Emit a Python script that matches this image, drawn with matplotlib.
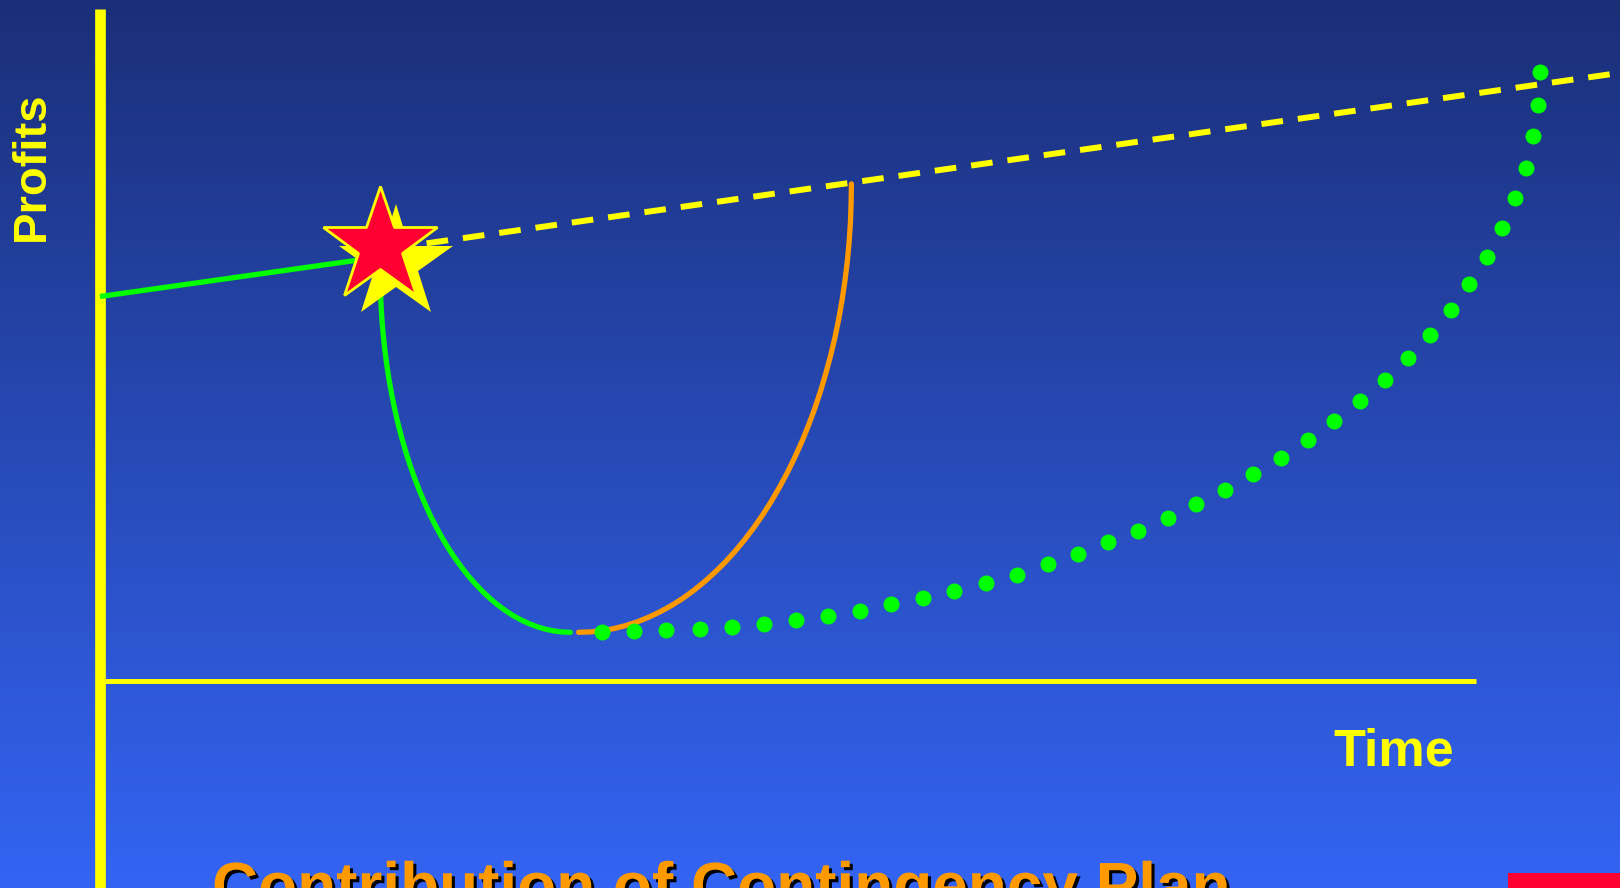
import matplotlib
matplotlib.use("Agg")
import matplotlib.pyplot as plt
import numpy as np
from matplotlib import patheffects as pe
from matplotlib.patches import Rectangle

# ---------------- data (time units, profit units) ----------------
# trend line before the crisis (solid green)
trend_before_t = [0.0, 28.0]
trend_before_p = [38.45, 42.4]
# expected trend after the crisis (dashed yellow), runs off the right edge
trend_after_t = [28.0, 154.0]
trend_after_p = [43.1, 61.1]

# crisis event (star)
event_t = [28.0]
event_p = [43.5]
burst_t = [29.6]
burst_p = [41.7]

# drop of profits (solid green curve)
drop_t = [28.02, 28.04, 28.09, 28.18, 28.31, 28.47, 28.67, 28.90, 29.17, 29.47,
          29.80, 30.17, 30.57, 31.00, 31.46, 31.95, 32.47, 33.01, 33.59, 34.19,
          34.81, 35.46, 36.13, 36.82, 37.53, 38.25, 39.00, 39.76, 40.53, 41.31,
          42.11, 42.92, 43.73, 44.55, 45.37, 46.20, 47.03]
drop_p = [41.03, 39.45, 37.88, 36.31, 34.75, 33.20, 31.67, 30.16, 28.66, 27.19,
          25.75, 24.33, 22.95, 21.60, 20.29, 19.02, 17.79, 16.60, 15.46, 14.37,
          13.33, 12.34, 11.41, 10.53, 9.72, 8.96, 8.26, 7.62, 7.05, 6.54,
          6.10, 5.73, 5.42, 5.18, 5.01, 4.90, 4.87]

# fast recovery with contingency plan (orange curve)
plan_t = [47.86, 49.05, 50.24, 51.42, 52.60, 53.76, 54.92, 56.06, 57.19, 58.30,
          59.39, 60.46, 61.50, 62.52, 63.51, 64.47, 65.40, 66.29, 67.15, 67.97,
          68.76, 69.50, 70.21, 70.87, 71.49, 72.06, 72.58, 73.06, 73.50, 73.88,
          74.21, 74.49, 74.73, 74.91, 75.04, 75.11, 75.14]
plan_p = [4.87, 4.91, 5.04, 5.25, 5.55, 5.93, 6.40, 6.95, 7.57, 8.28,
          9.07, 9.94, 10.88, 11.89, 12.98, 14.14, 15.36, 16.65, 18.00, 19.42,
          20.89, 22.41, 23.99, 25.62, 27.29, 29.01, 30.76, 32.55, 34.37, 36.23,
          38.10, 40.01, 41.93, 43.86, 45.80, 47.75, 49.71]

# slow recovery without plan (green dots)
slow_t = [50.24, 53.44, 56.64, 59.95, 63.15, 66.35, 69.56, 72.76, 75.96, 79.06,
          82.26, 85.36, 88.57, 91.67, 94.77, 97.76, 100.76, 103.76, 106.75, 109.64,
          112.54, 115.33, 118.12, 120.80, 123.39, 125.97, 128.45, 130.83, 132.99, 135.06,
          136.92, 138.68, 140.23, 141.47, 142.60, 143.33, 143.84, 143.95]
slow_p = [4.87, 4.97, 5.07, 5.18, 5.38, 5.69, 6.11, 6.52, 7.04, 7.66,
          8.28, 9.00, 9.83, 10.65, 11.69, 12.72, 13.86, 14.99, 16.34, 17.68,
          19.13, 20.68, 22.33, 24.09, 25.95, 28.01, 30.08, 32.25, 34.62, 37.10,
          39.69, 42.37, 45.27, 48.26, 51.26, 54.46, 57.56, 60.87]

y_axis_label = "Profits"
x_axis_label = "Time"
title_text = "Contribution of Contingency Plan"

# ---------------- styling ----------------
YELLOW = "#FFFF00"
GREEN = "#00FF00"
ORANGE = "#FF9900"
RED = "#FF0033"
FONT = "Liberation Sans"

W, H = 1620, 888
fig = plt.figure(figsize=(W / 100, H / 100), dpi=100)

# background gradient
bg = fig.add_axes([0, 0, 1, 1], zorder=-10)
top = np.array([27, 47, 120]) / 255.0
bot = np.array([51, 100, 243]) / 255.0
frac = np.linspace(0, 1, 256)[:, None]
grad = top[None, :] * (1 - frac) + bot[None, :] * frac
bg.imshow(grad[:, None, :], aspect="auto", extent=[0, 1, 0, 1], origin="upper")
bg.set_axis_off()

ax = fig.add_axes([0, 0, 1, 1])
ax.patch.set_alpha(0)
ax.set_xlim(-10, 152)
ax.set_ylim(-20.7, 68.1)
ax.set_xticks([])
ax.set_yticks([])
for s in ["top", "right"]:
    ax.spines[s].set_visible(False)
ax.spines["left"].set_position(("data", 0))
ax.spines["bottom"].set_position(("data", 0))
ax.spines["left"].set_color(YELLOW)
ax.spines["bottom"].set_color(YELLOW)
ax.spines["left"].set_linewidth(7.7)
ax.spines["bottom"].set_linewidth(3.6)
ax.spines["left"].set_bounds(-25, 67.15)
ax.spines["bottom"].set_bounds(0.5, 137.6)
ax.spines["left"].set_capstyle("butt")
ax.spines["bottom"].set_capstyle("butt")

# trend lines
ax.plot(trend_before_t, trend_before_p, color=GREEN, lw=3.8, solid_capstyle="butt", zorder=3)
ax.plot(trend_after_t, trend_after_p, color=YELLOW, lw=4.3,
        linestyle=(4.4, (3.63, 2.51)), dash_capstyle="butt", zorder=3)

# curves
ax.plot(drop_t, drop_p, color=GREEN, lw=3.8, solid_capstyle="round",
        solid_joinstyle="round", zorder=4)
ax.plot(plan_t, plan_p, color=ORANGE, lw=3.8, solid_capstyle="round",
        solid_joinstyle="round", zorder=4)
ax.plot(slow_t, slow_p, linestyle="none", marker="o", markersize=11.5,
        markerfacecolor=GREEN, markeredgewidth=0, zorder=4)

# star
ax.plot(burst_t, burst_p, linestyle="none", marker="*", markersize=86,
        markerfacecolor=YELLOW, markeredgewidth=0, zorder=5)
ax.plot(event_t, event_p, linestyle="none", marker="*", markersize=87,
        markerfacecolor=RED, markeredgecolor=YELLOW, markeredgewidth=2.0, zorder=6)

# labels
fig.text(32 / W, 1 - 166 / H, y_axis_label, rotation=90, ha="center", va="center",
         fontsize=34, fontweight="bold", color=YELLOW, family=FONT)
fig.text(1333 / W, 1 - 765 / H, x_axis_label, ha="left", va="baseline",
         fontsize=37.5, fontweight="bold", color=YELLOW, family=FONT)
fig.text(212 / W, 1 - 907 / H, title_text, ha="left", va="baseline",
         fontsize=46, fontweight="bold", color=ORANGE, family=FONT,
         path_effects=[pe.withSimplePatchShadow(offset=(2.2, -2.2),
                                                shadow_rgbFace="black", alpha=1.0)])

fig.patches.append(Rectangle((1508 / W, 0), 112 / W, 15 / H, transform=fig.transFigure,
                             facecolor=RED, edgecolor="none", zorder=20))

fig.savefig("out.png", dpi=100)
